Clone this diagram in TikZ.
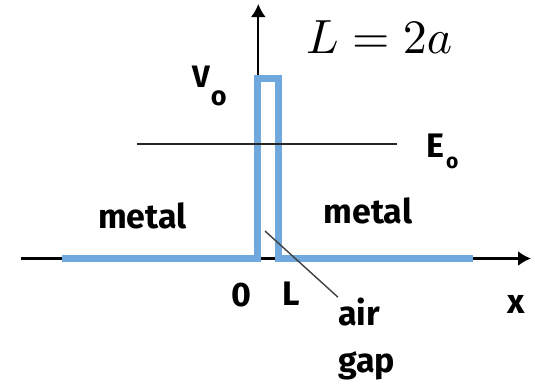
\documentclass[tikz,border=0pt]{standalone}
\usepackage{fontspec}
\setmainfont{Fira Sans}
\usetikzlibrary{arrows.meta}
\definecolor{barrierblue}{RGB}{111,168,220}
\tikzset{
  axisline/.style={line width=2.2pt, black, -{Latex[length=13pt,width=15pt]}},
  barrier/.style={line width=7pt, barrierblue, line join=miter},
  lvl/.style={line width=2pt, black!85},
  pointer/.style={line width=1.4pt, black!75},
  lbl/.style={inner sep=0pt, font=\bfseries\fontsize{34}{34}\selectfont},
}
\begin{document}
\begin{tikzpicture}[x=1pt,y=-1pt]
\useasboundingbox (0,0) rectangle (535,386);
% axes
\coordinate (xs) at (20.7,258.5);
\coordinate (xe) at (531,258.5);
\coordinate (ys) at (258.3,258.5);
\coordinate (ye) at (258.3,4);
\draw[axisline] (xs) -- (xe);
\draw[axisline] (ys) -- (ye);
% potential
\coordinate (b0) at (62,258.5);
\coordinate (b1) at (257.5,258.5);
\coordinate (b2) at (257.5,78.5);
\coordinate (b3) at (278,78.5);
\coordinate (b4) at (278,258.5);
\coordinate (b5) at (473,258.5);
\draw[barrier] (b0) -- (b1) -- (b2) -- (b3) -- (b4) -- (b5);
% energy level
\coordinate (es) at (137,144.3);
\coordinate (ee) at (397,144.3);
\draw[lvl] (es) -- (ee);
% labels
\node[inner sep=0pt, anchor=base west] (Leq) at (306,53) {\scalebox{4.8}{$L=2a$}};
\node[lbl, anchor=base west, font=\bfseries\fontsize{31}{31}\selectfont] (V) at (192,87) {V\kern1pt\raisebox{-18pt}{\fontsize{27}{27}\selectfont o}};
\node[lbl, anchor=base west] (E) at (426,157) {E\kern2pt\raisebox{-11pt}{\fontsize{21}{21}\selectfont o}};
\node[lbl, anchor=base] (m1) at (142.5,228) {metal};
\node[lbl, anchor=base] (m2) at (368,223) {metal};
\node[lbl, anchor=base] (zero) at (241,306) {0};
\node[lbl, anchor=base] (Lb) at (291,305) {L};
\node[lbl, anchor=base west] (air) at (338,325) {air};
\node[lbl, anchor=base west] (gap) at (338,372) {gap};
\node[lbl, anchor=base] (xl) at (516,313) {x};
% pointer
\coordinate (pt) at (265,231);
\draw[pointer] (pt) -- (air.north west);
\end{tikzpicture}
\end{document}
